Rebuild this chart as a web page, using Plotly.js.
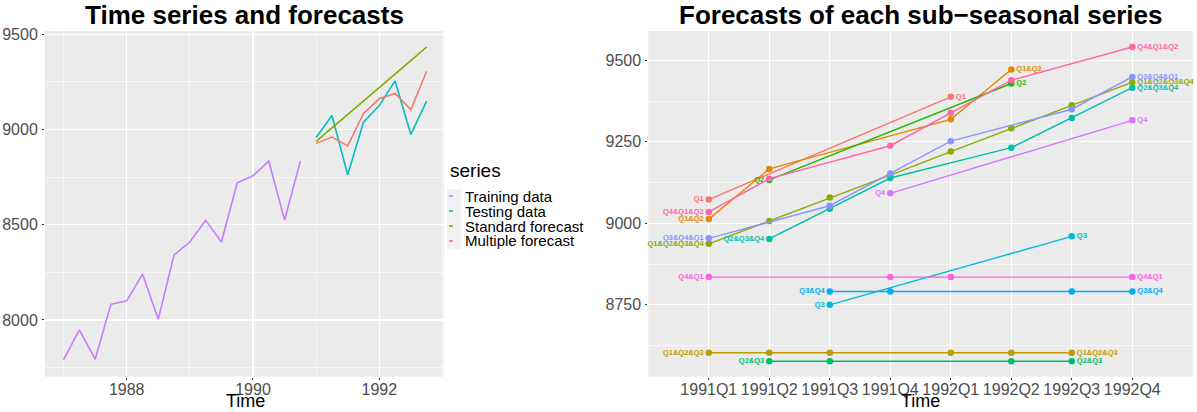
<!DOCTYPE html>
<html><head><meta charset="utf-8">
<script src="https://cdn.plot.ly/plotly-3.0.1.min.js"></script>
<style>html,body{margin:0;padding:0;background:#fff}#chart{width:1197px;height:412px}</style>
</head><body><div id="chart"></div>
<script>
// ---------- Left panel data ----------
const trainTime = [1987, 1987.25, 1987.5, 1987.75, 1988, 1988.25, 1988.5, 1988.75, 1989, 1989.25, 1989.5, 1989.75, 1990, 1990.25, 1990.5, 1990.75];
const trainValues = [7790, 7948, 7794, 8082, 8100, 8241, 8004, 8341, 8409, 8523, 8409, 8720, 8757, 8834, 8525, 8834];
const testTime = [1991, 1991.25, 1991.5, 1991.75, 1992, 1992.25, 1992.5, 1992.75];
const testValues = [8958, 9073, 8762, 9038, 9126, 9255, 8974, 9149];
const standardValues = [8937, 9007, 9079, 9148, 9220, 9292, 9362, 9433];
const multipleValues = [8927, 8960, 8914, 9084, 9161, 9189, 9105, 9306];
const leftSeriesNames = ['Training data', 'Testing data', 'Standard forecast', 'Multiple forecast'];
const leftColors = ['#C77CFF', '#00BFC4', '#7CAE00', '#F8766D'];

// ---------- Right panel data ----------
const quarters = ['1991Q1', '1991Q2', '1991Q3', '1991Q4', '1992Q1', '1992Q2', '1992Q3', '1992Q4'];
const subNames = ['Q1', 'Q1&Q2', 'Q1&Q2&Q3', 'Q1&Q2&Q3&Q4', 'Q2', 'Q2&Q3', 'Q2&Q3&Q4', 'Q3', 'Q3&Q4', 'Q3&Q4&Q1', 'Q4', 'Q4&Q1', 'Q4&Q1&Q2'];
const subColors = ['#F8766D', '#E18A00', '#BE9C00', '#8CAB00', '#24B700', '#00BE70', '#00C1AB', '#00BBDA', '#00ACFC', '#8B93FF', '#D575FE', '#F962DD', '#FF65AC'];
const sQ1       = [9073, null, null, null, 9388, null, null, null];
const sQ1Q2     = [9013, 9167, null, null, 9319, 9472, null, null];
const sQ1Q2Q3   = [8603, 8603, 8603, null, 8603, 8603, 8603, null];
const sQ1Q2Q3Q4 = [8937, 9007, 9079, 9148, 9220, 9292, 9362, 9433];
const sQ2       = [null, 9133, null, null, null, 9429, null, null];
const sQ2Q3     = [null, 8577, 8577, null, null, 8577, 8577, null];
const sQ2Q3Q4   = [null, 8952, 9045, 9139, null, 9232, 9323, 9416];
const sQ3       = [null, null, 8750, null, null, null, 8960, null];
const sQ3Q4     = [null, null, 8791, 8791, null, null, 8791, 8791];
const sQ3Q4Q1   = [8954, null, 9054, 9153, 9252, null, 9350, 9449];
const sQ4       = [null, null, null, 9092, null, null, null, 9316];
const sQ4Q1     = [8835, null, null, 8835, 8835, null, null, 8835];
const sQ4Q1Q2   = [9035, 9137, null, 9238, 9339, 9439, null, 9541];
const subValues = [sQ1, sQ1Q2, sQ1Q2Q3, sQ1Q2Q3Q4, sQ2, sQ2Q3, sQ2Q3Q4, sQ3, sQ3Q4, sQ3Q4Q1, sQ4, sQ4Q1, sQ4Q1Q2];

// ---------- Build ----------
const W = 1197, H = 412;
const px = v => v / W;
const py = v => 1 - v / H;
const FONT = 'Liberation Sans, Arial, Helvetica, sans-serif';

const traces = [];
const leftX = [trainTime, testTime, testTime, testTime];
const leftY = [trainValues, testValues, standardValues, multipleValues];
for (let i = 0; i < 4; i++) {
  traces.push({
    type: 'scatter', mode: 'lines', name: leftSeriesNames[i],
    x: leftX[i], y: leftY[i], xaxis: 'x', yaxis: 'y',
    line: {color: leftColors[i], width: 1.6}, showlegend: false, hoverinfo: 'x+y+name'
  });
}

subNames.forEach((name, k) => {
  const xs = [], ys = [];
  subValues[k].forEach((v, j) => { if (v !== null) { xs.push(quarters[j]); ys.push(v); } });
  const text = xs.map(() => '');
  const pos = xs.map(() => 'middle right');
  text[0] = name; pos[0] = 'middle left';
  text[xs.length - 1] = name; pos[xs.length - 1] = 'middle right';
  traces.push({
    type: 'scatter', mode: 'lines+markers+text', name: name,
    x: xs, y: ys, xaxis: 'x2', yaxis: 'y2',
    line: {color: subColors[k], width: 1.4},
    marker: {color: subColors[k], size: 6.5},
    text: text, textposition: pos,
    textfont: {family: FONT, size: 7.5, color: subColors[k], weight: 'bold'},
    cliponaxis: false, showlegend: false
  });
});

const gridCommon = {
  showgrid: true, gridcolor: '#FFFFFF', gridwidth: 1.2, zeroline: false, showline: false,
  ticks: 'outside', ticklen: 2, tickwidth: 1, tickcolor: '#333333',
  tickfont: {family: FONT, size: 16, color: '#4D4D4D'}
};
const minorGrid = {showgrid: true, gridcolor: '#FFFFFF', gridwidth: 0.6, ticks: ''};

const yTop = py(31), yBot = py(376.7);

const layout = {
  width: W, height: H,
  margin: {l: 0, r: 0, t: 0, b: 0},
  paper_bgcolor: '#FFFFFF', plot_bgcolor: '#EBEBEB',
  showlegend: false,
  xaxis: Object.assign({}, gridCommon, {
    domain: [px(45), px(444)], range: [1986.706, 1993.025],
    tick0: 1988, dtick: 2, minor: Object.assign({dtick: 1}, minorGrid),
    ticklabelstandoff: -4, anchor: 'y'
  }),
  yaxis: Object.assign({}, gridCommon, {
    domain: [yBot, yTop], range: [7702, 9517], ticklabelstandoff: 1,
    tick0: 8000, dtick: 500, minor: Object.assign({dtick: 250}, minorGrid), anchor: 'x'
  }),
  xaxis2: Object.assign({}, gridCommon, {
    domain: [px(648.3), px(1192.8)], type: 'category',
    categoryorder: 'array', categoryarray: quarters, range: [-1, 8],
    ticklabelstandoff: -4, anchor: 'y2'
  }),
  yaxis2: Object.assign({}, gridCommon, {
    domain: [yBot, yTop], range: [8529.5, 9590], ticklabelstandoff: 1,
    tick0: 8750, dtick: 250, minor: Object.assign({dtick: 125}, minorGrid), anchor: 'x2'
  }),
  annotations: [
    {text: 'Time series and forecasts', xref: 'paper', yref: 'paper', x: px(244.5), y: py(15),
     xanchor: 'center', yanchor: 'middle', showarrow: false,
     font: {family: FONT, size: 26, color: '#000000', weight: 'bold'}},
    {text: 'Forecasts of each sub\u2212seasonal series', xref: 'paper', yref: 'paper', x: px(920.5), y: py(15),
     xanchor: 'center', yanchor: 'middle', showarrow: false,
     font: {family: FONT, size: 26, color: '#000000', weight: 'bold'}},
    {text: 'Time', xref: 'paper', yref: 'paper', x: px(245), y: py(401),
     xanchor: 'center', yanchor: 'middle', showarrow: false,
     font: {family: FONT, size: 18, color: '#000000'}},
    {text: 'Time', xref: 'paper', yref: 'paper', x: px(920.5), y: py(401),
     xanchor: 'center', yanchor: 'middle', showarrow: false,
     font: {family: FONT, size: 18, color: '#000000'}},
    {text: 'series', xref: 'paper', yref: 'paper', x: px(448), y: py(171),
     xanchor: 'left', yanchor: 'middle', showarrow: false,
     font: {family: FONT, size: 19, color: '#000000'}}
  ],
  shapes: [
    {type: 'rect', xref: 'paper', yref: 'paper', x0: px(447), x1: px(461), y0: py(189), y1: py(249),
     fillcolor: '#F2F2F2', line: {width: 0}, layer: 'below'}
  ]
};

const legendY = [196, 211, 226, 241];
leftSeriesNames.forEach((n, i) => {
  layout.annotations.push({text: n, xref: 'paper', yref: 'paper', x: px(463), y: py(legendY[i]),
    xanchor: 'left', yanchor: 'middle', showarrow: false,
    font: {family: FONT, size: 15, color: '#000000'}});
  layout.shapes.push({type: 'line', xref: 'paper', yref: 'paper', x0: px(449), x1: px(453),
    y0: py(legendY[i]), y1: py(legendY[i]), line: {color: leftColors[i], width: 1.6}});
});

Plotly.newPlot('chart', traces, layout, {displayModeBar: false, staticPlot: true});
</script>
</body></html>
